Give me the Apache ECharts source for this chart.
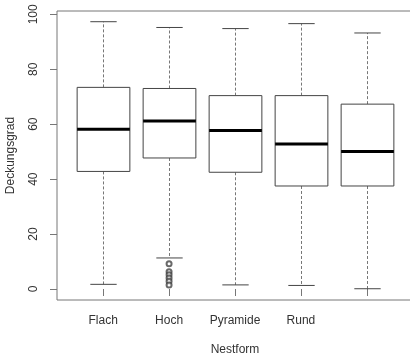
<!DOCTYPE html>
<html>
<head>
<meta charset="utf-8">
<script src="https://cdn.jsdelivr.net/npm/echarts@6/dist/echarts.min.js"></script>
<style>
  html, body { margin: 0; padding: 0; background: #fff; }
  #chart { width: 410px; height: 354px; }
</style>
</head>
<body>
<div id="chart"></div>
<script>
// Boxplot statistics (Deckungsgrad per Nestform)
const categories = ['Flach', 'Hoch', 'Pyramide', 'Rund', ''];
const lowerWhisker = [1.7, 11.3, 1.5, 1.3, 0.1];
const q1 = [42.8, 47.7, 42.5, 37.5, 37.5];
const median = [58.2, 61.2, 57.7, 52.8, 50.1];
const q3 = [73.4, 73.0, 70.4, 70.4, 67.3];
const upperWhisker = [97.3, 95.2, 94.8, 96.6, 93.2];

// Outliers of "Hoch"
const outlierValues = [9.2, 6.3, 5.2, 4.0, 2.8, 1.5];
const outlierGroup = 2;

const yTicks = [0, 20, 40, 60, 80, 100];
const xTicks = [1, 2, 3, 4, 5];

const boxData = categories.map((c, i) => [i + 1, lowerWhisker[i], q1[i], median[i], q3[i], upperWhisker[i]]);
const outlierData = outlierValues.map(v => [outlierGroup, v]);

const lineColor = '#444';
const font = 'Liberation Sans, Arial, sans-serif';

function renderBox(params, api) {
    const x = api.value(0);
    const pLow = api.coord([x, api.value(1)]);
    const pQ1 = api.coord([x, api.value(2)]);
    const pMed = api.coord([x, api.value(3)]);
    const pQ3 = api.coord([x, api.value(4)]);
    const pHigh = api.coord([x, api.value(5)]);
    const w = api.size([0.8, 0])[0];
    const cx = Math.round(pMed[0]) + 0.5;
    const half = w / 2;
    const cap = w / 4;
    return {
        type: 'group',
        children: [
            // whiskers (dashed)
            { type: 'line', shape: { x1: cx, y1: pQ3[1], x2: cx, y2: pHigh[1] },
              style: { stroke: '#777', lineWidth: 1, lineDash: [3, 2] } },
            { type: 'line', shape: { x1: cx, y1: pQ1[1], x2: cx, y2: pLow[1] },
              style: { stroke: '#777', lineWidth: 1, lineDash: [3, 2] } },
            // staples
            { type: 'line', shape: { x1: cx - cap, y1: pHigh[1], x2: cx + cap, y2: pHigh[1] },
              style: { stroke: lineColor, lineWidth: 1 } },
            { type: 'line', shape: { x1: cx - cap, y1: pLow[1], x2: cx + cap, y2: pLow[1] },
              style: { stroke: lineColor, lineWidth: 1 } },
            // box
            { type: 'rect', shape: { x: cx - half, y: pQ3[1], width: w, height: pQ1[1] - pQ3[1] },
              style: { fill: '#fff', stroke: lineColor, lineWidth: 1 } },
            // median
            { type: 'line', shape: { x1: cx - half, y1: pMed[1], x2: cx + half, y2: pMed[1] },
              style: { stroke: '#000', lineWidth: 3 } }
        ]
    };
}

const chart = echarts.init(document.getElementById('chart'));
const option = {
    animation: false,
    backgroundColor: '#fff',
    grid: {
        left: 57, top: 11, width: 356, height: 289,
        containLabel: false,
        outerBoundsMode: 'none',
        show: true, borderColor: '#777', borderWidth: 1, backgroundColor: 'transparent'
    },
    xAxis: {
        type: 'value',
        min: 0.3,
        max: 5.7,
        name: 'Nestform',
        nameLocation: 'middle',
        nameGap: 44,
        nameTextStyle: { color: '#333', fontSize: 12, fontFamily: font },
        axisLine: { show: false },
        splitLine: { show: false },
        axisTick: { show: true, length: 7, customValues: xTicks, lineStyle: { color: '#777' } },
        axisLabel: {
            customValues: xTicks,
            margin: 15,
            color: '#333',
            fontSize: 12,
            fontFamily: font,
            formatter: v => categories[Math.round(v) - 1]
        }
    },
    yAxis: {
        type: 'value',
        min: -4,
        max: 101.2,
        name: 'Deckungsgrad',
        nameLocation: 'middle',
        nameGap: 40,
        nameRotate: 90,
        nameTextStyle: { color: '#333', fontSize: 12, fontFamily: font },
        axisLine: { show: false },
        splitLine: { show: false },
        axisTick: { show: true, length: 7, customValues: yTicks, lineStyle: { color: '#777' } },
        axisLabel: {
            customValues: yTicks,
            rotate: 90,
            margin: 17,
            color: '#333',
            fontSize: 12,
            fontFamily: font
        }
    },
    series: [
        {
            type: 'custom',
            renderItem: renderBox,
            data: boxData,
            encode: { x: 0, y: [1, 2, 3, 4, 5] },
            z: 2
        },
        {
            type: 'scatter',
            data: outlierData,
            symbol: 'emptyCircle',
            symbolSize: 5,
            itemStyle: { color: lineColor, borderColor: lineColor, borderWidth: 1 },
            z: 3
        }
    ]
};
chart.setOption(option);
</script>
</body>
</html>
